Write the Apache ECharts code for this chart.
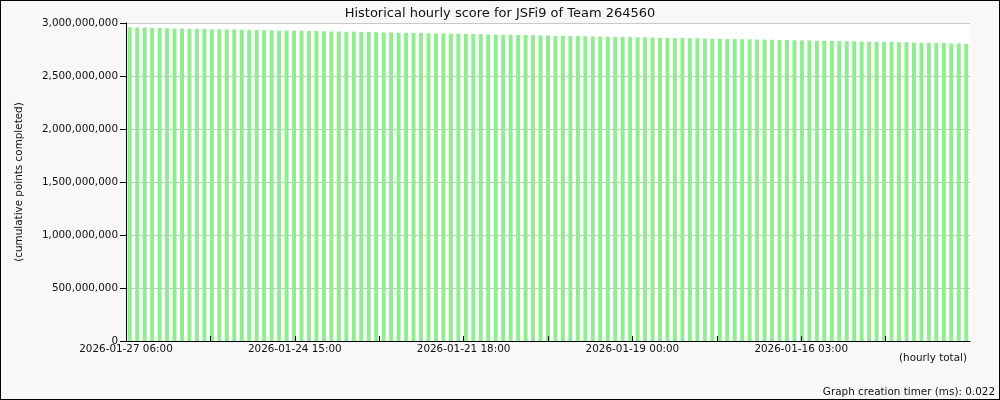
<!DOCTYPE html>
<html>
<head>
<meta charset="utf-8">
<script src="https://cdn.jsdelivr.net/npm/echarts@6/dist/echarts.min.js"></script>
<style>
  html, body { margin: 0; padding: 0; background: #f8f8f8; }
  #chart { width: 1000px; height: 400px; box-sizing: border-box; border: 1px solid #000; }
</style>
</head>
<body>
<div id="chart"></div>
<script>
// Hourly cumulative points (most recent first)
const scores = [
  2959100000, 2957800000, 2956400000, 2955000000, 2953700000,
  2949800000, 2948500000, 2947100000, 2945800000, 2944500000, 2943100000, 2941800000,
  2940600000, 2939300000, 2938000000, 2936700000, 2935400000, 2934000000, 2932700000, 2931400000,
  2930100000, 2928800000, 2927400000, 2926100000, 2924800000, 2923500000,
  2921900000, 2920600000, 2919300000, 2918000000, 2916600000, 2915300000, 2914000000,
  2912600000, 2911300000, 2910000000, 2908600000, 2907300000, 2906000000, 2904600000,
  2903100000, 2901800000, 2900500000, 2899200000, 2897900000, 2896500000, 2895200000,
  2893800000, 2892400000, 2891100000, 2889800000, 2888500000, 2887100000, 2885800000,
  2884500000, 2883200000, 2881800000, 2880500000, 2879200000, 2877800000, 2876500000,
  2875100000, 2873800000, 2872500000, 2871100000, 2869800000, 2868500000, 2867200000,
  2865800000, 2864500000, 2863100000, 2861800000, 2860500000, 2859200000, 2857800000,
  2856400000, 2855100000, 2853800000, 2852400000, 2851100000, 2849800000, 2848500000, 2847200000,
  2845800000, 2844500000, 2843200000, 2841900000, 2840500000, 2839200000,
  2837300000, 2836000000, 2834700000, 2833300000, 2832000000, 2830700000, 2829400000,
  2828000000, 2826700000, 2825400000, 2824100000, 2822700000, 2821400000, 2820100000,
  2818700000, 2817400000, 2816100000, 2814800000, 2813400000, 2812100000, 2810800000,
  2807500000, 2806200000, 2804900000
];
// Labels at the ten tick divisions along the time axis
const tickLabels = [
  '2026-01-27 06:00', '', '2026-01-24 15:00', '', '2026-01-21 18:00', '',
  '2026-01-19 00:00', '', '2026-01-16 03:00', '', ''
];
const yTicks = { min: 0, max: 3000000000, interval: 500000000 };

const FONT = 'DejaVu Sans';
const chart = echarts.init(document.getElementById('chart'), null, { renderer: 'canvas' });
const fmt = v => v.toLocaleString('en-US');

chart.setOption({
  backgroundColor: '#f8f8f8',
  animation: false,
  title: {
    text: 'Historical hourly score for JSFi9 of Team 264560',
    left: 'center', top: 1,
    textStyle: { fontFamily: FONT, fontSize: 13, fontWeight: 'normal', color: '#111' }
  },
  grid: {
    left: 125, right: 29, top: 22, bottom: 58,
    show: true, backgroundColor: '#ffffff', borderWidth: 0
  },
  xAxis: [
    {
      type: 'category',
      data: scores.map((_, i) => i),
      boundaryGap: true,
      axisLine: { show: true, lineStyle: { color: '#000', width: 1 } },
      axisTick: { show: false },
      axisLabel: { show: false },
      splitLine: { show: false }
    },
    {
      type: 'value',
      min: 0, max: tickLabels.length - 1, interval: 1,
      position: 'bottom',
      z: 5,
      axisLine: { show: false },
      axisTick: { show: true, inside: true, length: 5, lineStyle: { color: '#000' } },
      axisLabel: {
        show: true, margin: 3, showMaxLabel: false,
        fontFamily: FONT, fontSize: 10.4, color: '#111',
        formatter: v => tickLabels[Math.round(v)] || ''
      },
      splitLine: { show: false }
    }
  ],
  yAxis: {
    type: 'value',
    min: yTicks.min, max: yTicks.max, interval: yTicks.interval,
    name: '(cumulative points completed)',
    nameLocation: 'middle', nameGap: 102,
    nameTextStyle: { fontFamily: FONT, fontSize: 10.4, color: '#111' },
    axisLine: { show: true, lineStyle: { color: '#000', width: 1 } },
    axisTick: { show: true, length: 6, lineStyle: { color: '#000' } },
    axisLabel: { margin: 8, fontFamily: FONT, fontSize: 10.4, color: '#111', formatter: fmt },
    splitLine: { show: true, lineStyle: { color: '#c8c8c8', width: 1 } }
  },
  series: [{
    type: 'bar',
    xAxisIndex: 0,
    data: scores,
    barWidth: 4,
    itemStyle: { color: '#90ee90' }
  }],
  graphic: [
    {
      type: 'text', right: 32, top: 352,
      style: { text: '(hourly total)', font: '10.4px "DejaVu Sans"', fill: '#111' }
    },
    {
      type: 'text', right: 4, top: 386,
      style: { text: 'Graph creation timer (ms): 0.022', font: '10.4px "DejaVu Sans"', fill: '#111' }
    }
  ]
});
</script>
</body>
</html>
